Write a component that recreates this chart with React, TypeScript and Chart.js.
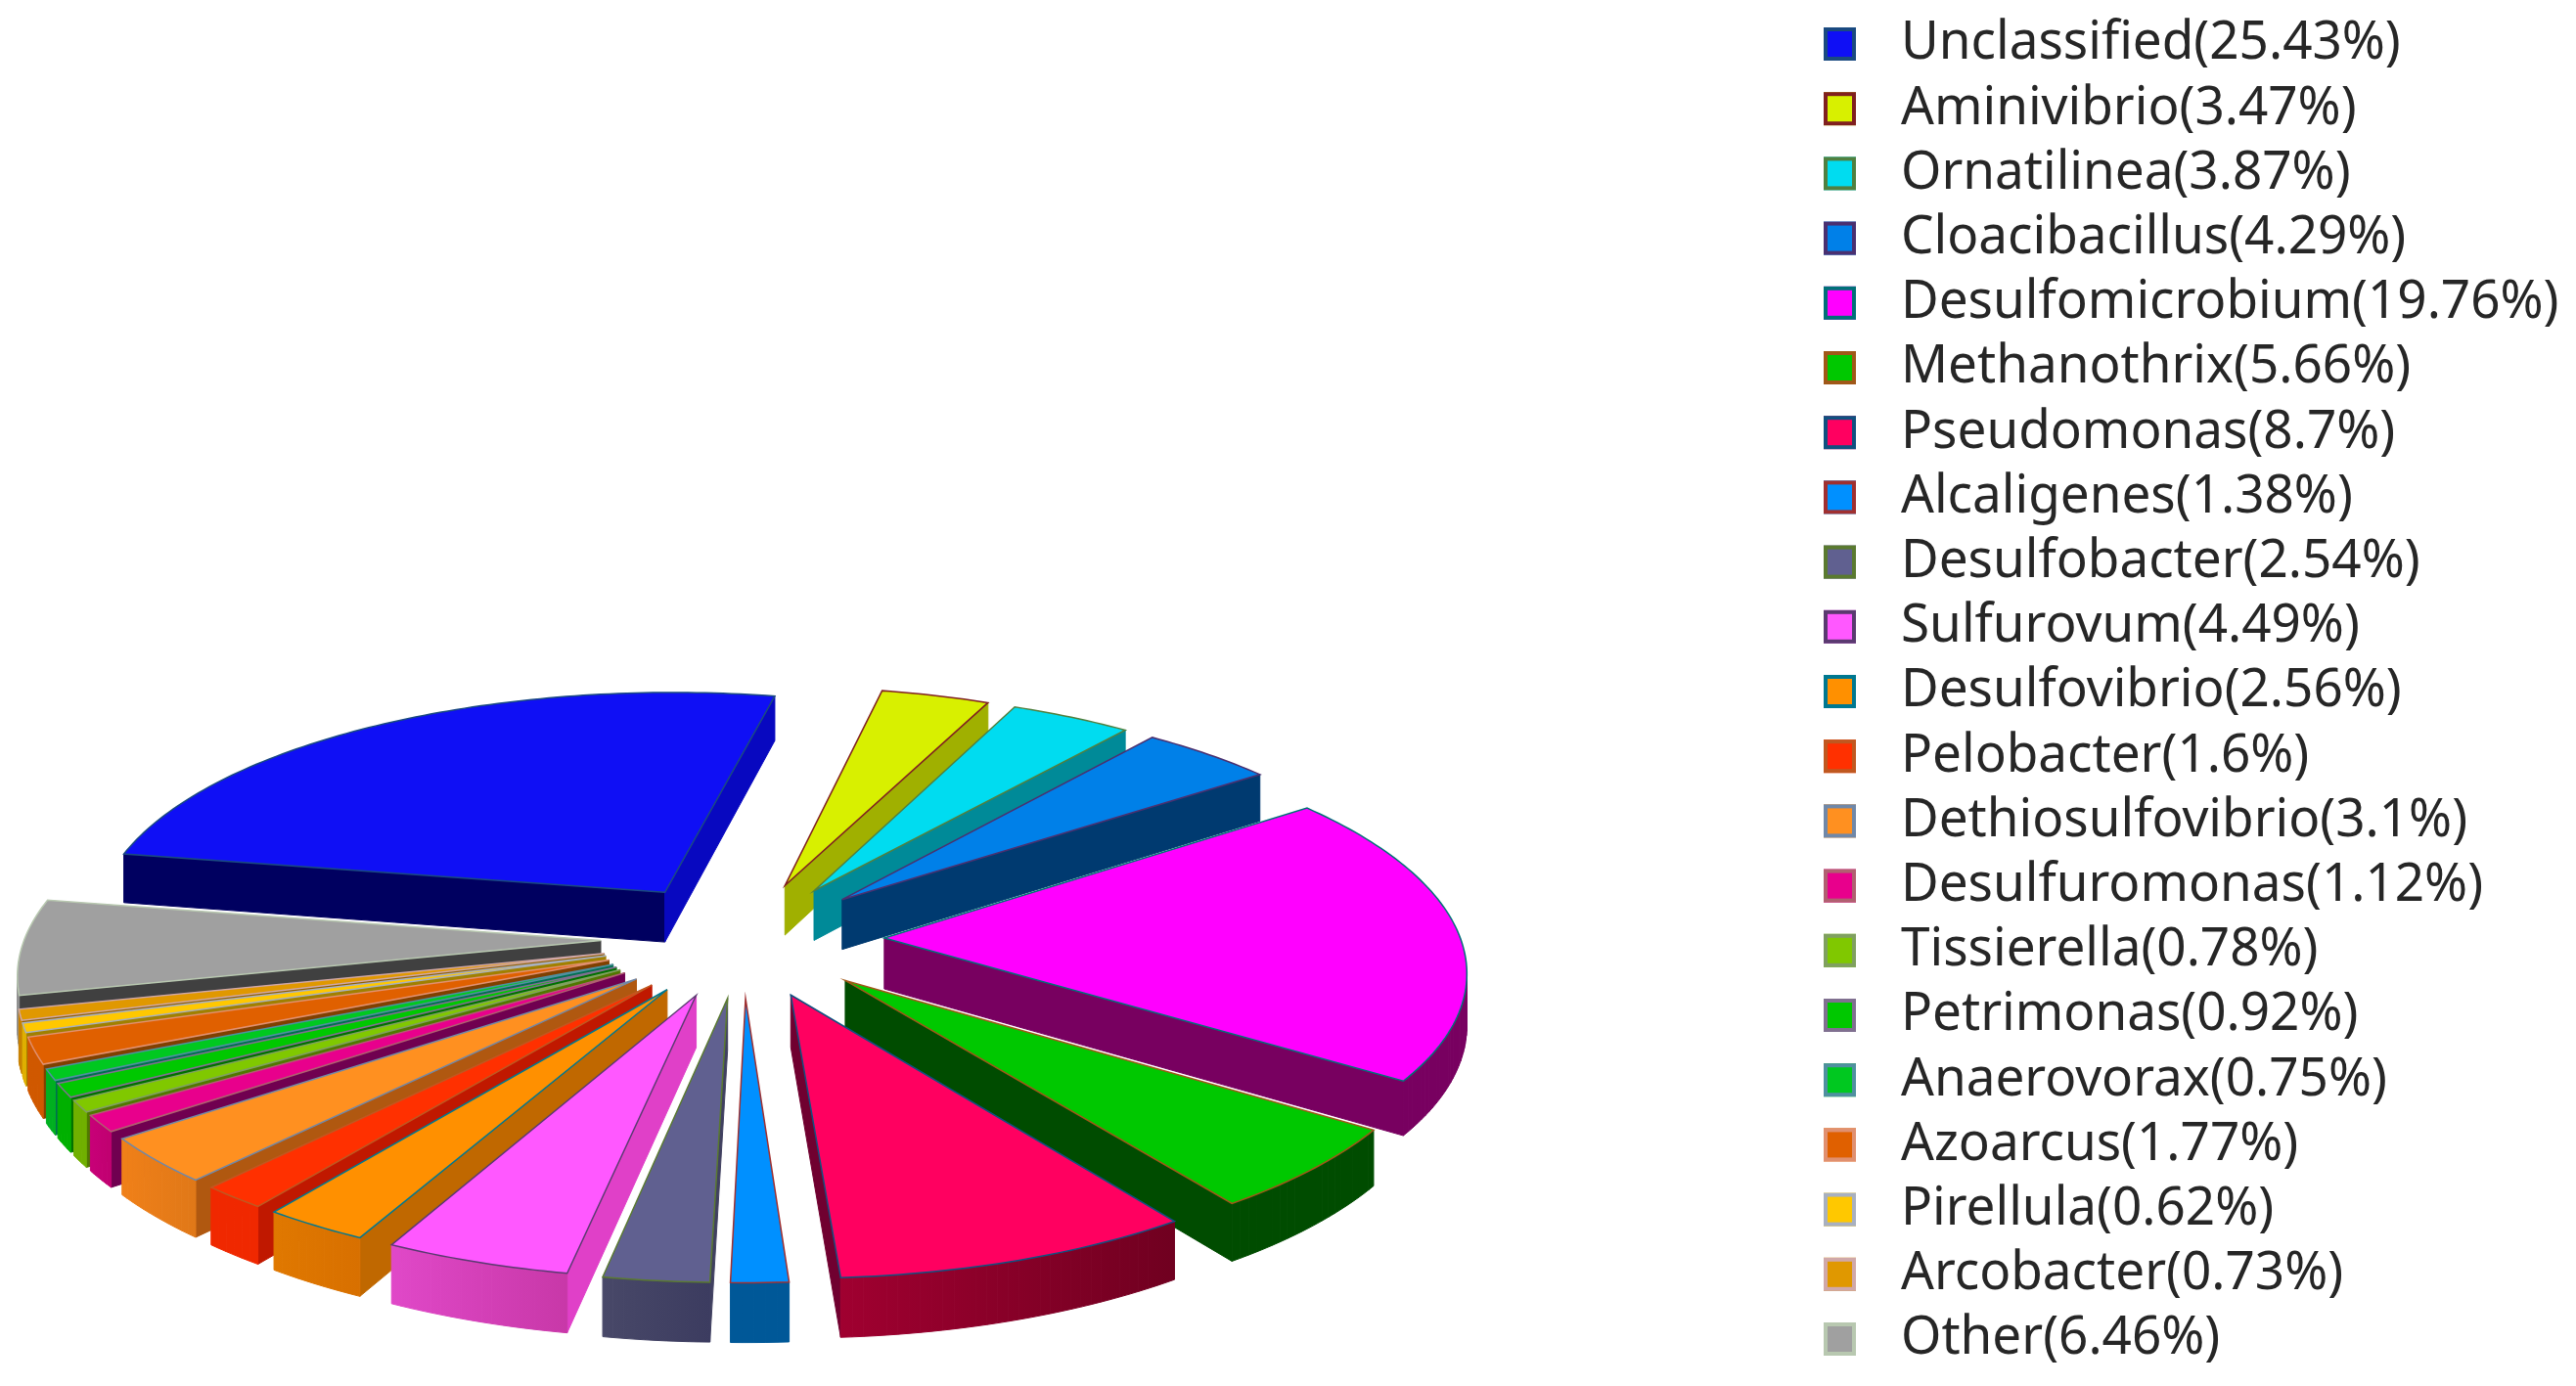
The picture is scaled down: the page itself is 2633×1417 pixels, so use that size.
import React, { useEffect, useRef } from "react";
import { Chart, registerables } from "chart.js";

Chart.register(...registerables);

const NAMES = ["Unclassified","Aminivibrio","Ornatilinea","Cloacibacillus","Desulfomicrobium","Methanothrix","Pseudomonas","Alcaligenes","Desulfobacter","Sulfurovum","Desulfovibrio","Pelobacter","Dethiosulfovibrio","Desulfuromonas","Tissierella","Petrimonas","Anaerovorax","Azoarcus","Pirellula","Arcobacter","Other"];
const VALUES = [25.43,3.47,3.87,4.29,19.76,5.66,8.7,1.38,2.54,4.49,2.56,1.6,3.1,1.12,0.78,0.92,0.75,1.77,0.62,0.73,6.46];
const TOP = ["#0f0ff5","#d8f000","#00dcf0","#0080e8","#ff00ff","#00c800","#ff0060","#0090ff","#606090","#ff58ff","#ff9000","#ff3000","#ff9020","#e8008c","#80c800","#00c800","#00c820","#e06000","#ffc800","#e09800","#a0a0a0"];
const WALL_START = ["#000060","#a0b000","#008a98","#003a70","#780060","#004c00","#700030","#005898","#404060","#e040c8","#c06800","#c01800","#b05810","#700050","#507800","#007000","#007050","#804000","#a08000","#906000","#404040"];
const WALL_END = ["#0808c0","#a0b000","#008a98","#003a70","#780060","#004c00","#700030","#005898","#404060","#e040c8","#c06800","#c01800","#b05810","#700050","#507800","#007000","#007050","#804000","#a08000","#906000","#404040"];
const RIM_A = ["#000060","#a0b000","#008a98","#003a70","#780060","#004c00","#a00030","#005898","#484868","#e048c8","#e07800","#f02800","#f08018","#c80078","#70b000","#00b000","#00b020","#d05800","#e0b000","#c88000","#909090"];
const RIM_B = ["#000060","#a0b000","#008a98","#003a70","#780060","#004c00","#700020","#005898","#3c3c60","#c838a8","#d87000","#f02800","#e07818","#c00070","#70b000","#00b000","#00b020","#d05800","#e0b000","#c88000","#909090"];
const EDGE = ["#1a4a80","#802020","#508040","#4a3070","#007078","#a05818","#105080","#a03030","#5a7a30","#5a3a70","#007890","#c05820","#7088a8","#b06070","#80a060","#807090","#5090a0","#e09070","#a8b0c0","#d0a8a8","#b8c8b0"];

const LABELS = NAMES.map((n, i) => `${n}(${VALUES[i]}%)`);

const cx = 759, cy = 960, R = 734, TILT = 0.407, PERSP = 0.15, DEPTH = 52;

const project = (u: number, v: number) => {
  const s = 1 / (1 - PERSP * v);
  return { x: cx + R * u * s, y: cy + R * TILT * v * s, s };
};

const piePlugin = {
  id: "tiltedPie",
  beforeDatasetDraw(chart: any) {
    const ctx = chart.ctx;
    const arcs = chart.getDatasetMeta(0).data as any[];
    const order = arcs.map((a, i) => ({ a, i, mid: Math.sin((a.startAngle + a.endAngle) / 2) }));
    order.sort((p, q) => p.mid - q.mid);
    for (const { a, i } of order) {
      const off = a.options.offset || 0;
      const n = a.outerRadius + off;
      const m = (a.startAngle + a.endAngle) / 2;
      const ox = (Math.cos(m) * off) / n, oy = (Math.sin(m) * off) / n, r = a.outerRadius / n;
      const apex = project(ox, oy);
      const steps = Math.max(2, Math.ceil(((a.endAngle - a.startAngle) * 180) / Math.PI));
      const rim: any[] = [];
      for (let k = 0; k <= steps; k++) {
        const t = a.startAngle + ((a.endAngle - a.startAngle) * k) / steps;
        rim.push(project(ox + r * Math.cos(t), oy + r * Math.sin(t)));
      }
      const wall = (p: any, q: any, fill: any) => {
        ctx.beginPath();
        ctx.moveTo(p.x, p.y);
        ctx.lineTo(q.x, q.y);
        ctx.lineTo(q.x, q.y + DEPTH * q.s);
        ctx.lineTo(p.x, p.y + DEPTH * p.s);
        ctx.closePath();
        ctx.fillStyle = fill;
        ctx.strokeStyle = fill;
        ctx.lineWidth = 1;
        ctx.fill();
        ctx.stroke();
      };
      const first = rim[0], last = rim[rim.length - 1];
      if (first.x < apex.x) wall(apex, first, WALL_START[i]);
      if (apex.x < last.x) wall(last, apex, WALL_END[i]);
      const xs = rim.map((p) => p.x);
      const g = ctx.createLinearGradient(Math.min(...xs), 0, Math.max(...xs), 0);
      g.addColorStop(0, RIM_A[i]);
      g.addColorStop(1, RIM_B[i]);
      for (let k = 0; k < rim.length - 1; k++) {
        if (rim[k + 1].x < rim[k].x) wall(rim[k], rim[k + 1], g);
      }
      ctx.beginPath();
      ctx.moveTo(apex.x, apex.y);
      rim.forEach((p) => ctx.lineTo(p.x, p.y));
      ctx.closePath();
      ctx.fillStyle = a.options.backgroundColor;
      ctx.fill();
      ctx.strokeStyle = a.options.borderColor;
      ctx.lineWidth = 1.5;
      ctx.stroke();
    }
    return false;
  },
  afterDraw(chart: any) {
    const ctx = chart.ctx;
    const labels = chart.data.labels as string[];
    const ds = chart.data.datasets[0];
    ctx.save();
    labels.forEach((text, i) => {
      const y = 45 + 66.2 * i;
      ctx.fillStyle = ds.backgroundColor[i];
      ctx.fillRect(1864, y - 17, 33, 34);
      ctx.strokeStyle = ds.borderColor[i];
      ctx.lineWidth = 4;
      ctx.strokeRect(1866, y - 15, 29, 30);
      ctx.save();
      ctx.translate(1943, y);
      ctx.scale(0.982, 1);
      ctx.font = '400 54px "Noto Sans"';
      ctx.textBaseline = "middle";
      ctx.fillStyle = "#262626";
      ctx.fillText(text, 0, 0);
      ctx.restore();
    });
    ctx.restore();
  },
};

export default function App() {
  const ref = useRef<HTMLCanvasElement>(null);
  useEffect(() => {
    const chart = new Chart(ref.current as HTMLCanvasElement, {
      type: "pie",
      data: {
        labels: LABELS,
        datasets: [{ data: VALUES, backgroundColor: TOP, borderColor: EDGE, offset: 155 }],
      },
      options: {
        animation: false,
        responsive: false,
        rotation: -79.9,
        events: [],
        plugins: { legend: { display: false }, tooltip: { enabled: false } },
      },
      plugins: [piePlugin],
    } as any);
    return () => chart.destroy();
  }, []);
  return (
    <div style={{ position: "fixed", left: 0, top: 0, width: 2633, height: 1417, background: "#fff" }}>
      <canvas ref={ref} width={2633} height={1417} style={{ display: "block", filter: "blur(0.7px)" }} />
    </div>
  );
}
